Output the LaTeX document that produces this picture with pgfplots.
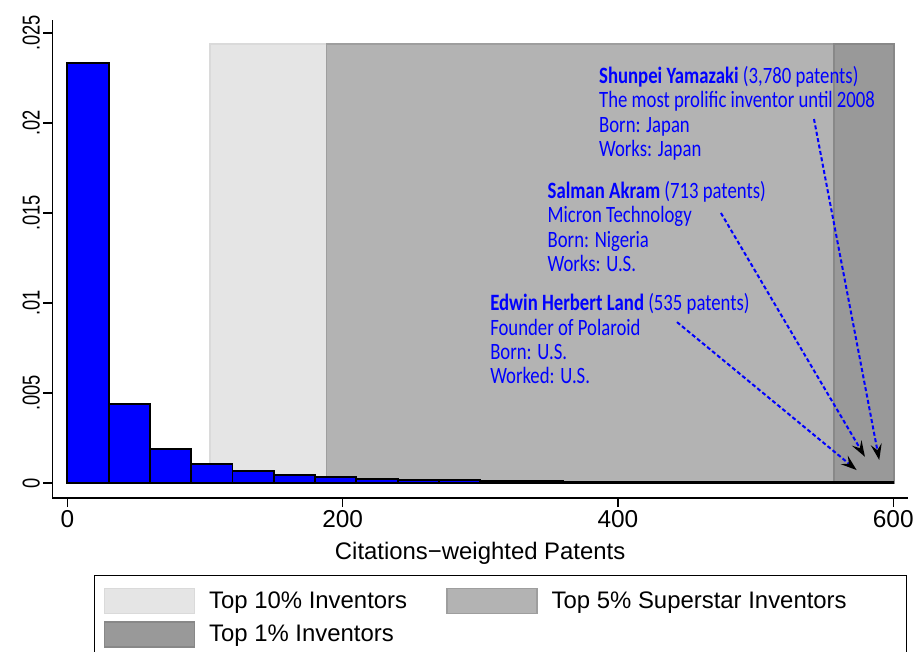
\documentclass[border=0pt]{standalone}
\usepackage{fontspec}
\setmainfont{Liberation Sans}
\newfontfamily\annfont[FakeStretch=0.8]{Carlito}
\newfontfamily\ytfont[FakeStretch=0.75]{Liberation Sans}
\usepackage{pgfplots}
\pgfplotsset{compat=1.18}
\usetikzlibrary{arrows.meta}
\definecolor{annblue}{RGB}{0,0,255}
\definecolor{barblue}{RGB}{0,0,255}
\definecolor{cA}{RGB}{229,229,229}
\definecolor{cAe}{RGB}{218,218,218}
\definecolor{cB}{RGB}{179,179,179}
\definecolor{cBe}{RGB}{158,158,158}
\definecolor{cC}{RGB}{153,153,153}
\definecolor{cCe}{RGB}{136,136,136}
\begin{document}
\begin{tikzpicture}
\useasboundingbox (0bp,0bp) rectangle (914bp,652bp);
\begin{axis}[
  at={(52.3bp,154bp)}, anchor=south west,
  width=855.7bp, height=478bp, scale only axis,
  xmin=-10.9, xmax=610.7, ymin=-0.00083, ymax=0.02572,
  axis x line*=bottom, axis y line*=left,
  axis line style={line width=1.3bp, black, -},
  tick align=outside, major tick length=9bp,
  every tick/.style={line width=1.3bp, black},
  xtick={0,200,400,600}, xticklabels={0,200,400,600},
  ytick={0,0.005,0.01,0.015,0.02,0.025},
  yticklabels={0,.005,.01,.015,.02,.025},
  scaled y ticks=false,
  xticklabel style={font=\fontsize{24.5}{28}\selectfont},
  yticklabel style={font=\ytfont\fontsize{24.5}{28}\selectfont, rotate=90, anchor=south},
  xlabel={Citations−weighted Patents},
  xlabel style={font=\fontsize{24}{28}\selectfont, at={(axis description cs:0.5,-0.1297)}, anchor=base},
  legend columns=2,
  legend cell align=left,
  legend image code/.code={\draw[#1] (0bp,-12.5bp) rectangle (90bp,12.5bp);},
  legend style={at={(axis description cs:0.0487,-0.1611)}, anchor=north west,
    draw=black, line width=1.3bp, inner xsep=9bp, inner ysep=12bp,
    font=\fontsize{24}{28}\selectfont, row sep=7bp,
    /tikz/every odd column/.append style={column sep=12bp},
    /tikz/every even column/.append style={column sep=37bp}},
]
% shaded regions
\addplot[fill=cA, draw=cAe, line width=1.5bp] coordinates {(103.7,0) (103.7,0.0244) (600.5,0.0244) (600.5,0) (103.7,0)};
\addlegendentry{Top 10\% Inventors}
\addplot[fill=cB, draw=cBe, line width=1.5bp] coordinates {(188.4,0) (188.4,0.0244) (600.5,0.0244) (600.5,0) (188.4,0)};
\addlegendentry{Top 5\% Superstar Inventors\hspace*{49bp}}
\addplot[fill=cC, draw=cCe, line width=1.5bp] coordinates {(556.9,0) (556.9,0.0244) (600.5,0.0244) (600.5,0) (556.9,0)};
\addlegendentry{Top 1\% Inventors}
% histogram
\addplot[ybar interval, fill=barblue, draw=black, line width=1.8bp, forget plot] coordinates {
(0,0.02335) (30,0.00439) (60,0.00187) (90,0.00104) (120,0.00068) (150,0.00044)
(180,0.00032) (210,0.00024) (240,0.00018) (270,0.00015) (300,0.00012) (330,0.00010)
(360,0.00008) (390,0.00007) (420,0.00006) (450,0.00006) (480,0.00005) (510,0.00005)
(540,0.00004) (570,0.00004) (600,0.00004)};
% annotations
\node[anchor=base west, align=left, inner sep=0pt, text=annblue, font=\annfont\fontsize{23.5}{24.5}\selectfont]
  at (axis cs:386.2,0.01814) {\textbf{Shunpei Yamazaki} (3,780 patents)\\The most prolific inventor until 2008\\Born: Japan\\Works: Japan};
\node[anchor=base west, align=left, inner sep=0pt, text=annblue, font=\annfont\fontsize{23.5}{24.5}\selectfont]
  at (axis cs:348.8,0.01175) {\textbf{Salman Akram} (713 patents)\\Micron Technology\\Born: Nigeria\\Works: U.S.};
\node[anchor=base west, align=left, inner sep=0pt, text=annblue, font=\annfont\fontsize{23.5}{24.5}\selectfont]
  at (axis cs:307.1,0.005506) {\textbf{Edwin Herbert Land} (535 patents)\\Founder of Polaroid\\Born: U.S.\\Worked: U.S.};
\draw[annblue, dash pattern=on 4bp off 2.5bp, line width=2bp, -{Stealth[color=black, length=16bp, width=11bp, inset=6bp]}]
  (axis cs:442.9,0.00894) -- (axis cs:573.4,0.00072);
\draw[annblue, dash pattern=on 4bp off 2.5bp, line width=2bp, -{Stealth[color=black, length=16bp, width=11bp, inset=6bp]}]
  (axis cs:474.8,0.0150) -- (axis cs:579.4,0.00146);
\draw[annblue, dash pattern=on 4bp off 2.5bp, line width=2bp, -{Stealth[color=black, length=16bp, width=11bp, inset=6bp]}]
  (axis cs:542.4,0.02022) -- (axis cs:589.8,0.00128);
\end{axis}
\end{tikzpicture}
\end{document}
